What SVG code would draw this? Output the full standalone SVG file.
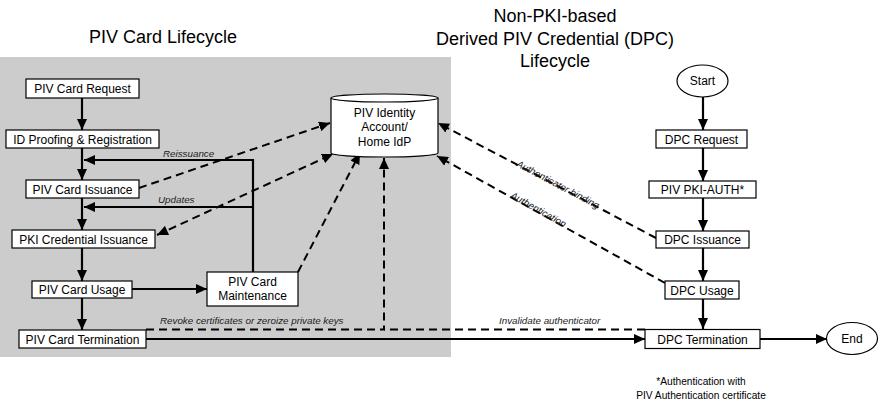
<svg xmlns="http://www.w3.org/2000/svg" width="880" height="405" viewBox="0 0 880 405">
<defs>
<style>
.box{fill:#fff;stroke:#000;stroke-width:1.2}
.t{font-family:"Liberation Sans",Arial,sans-serif;font-size:12px;fill:#000;text-anchor:middle}
.title{font-family:"Liberation Sans",Arial,sans-serif;font-size:18px;fill:#000;text-anchor:middle}
.lbl{font-family:"Liberation Sans",Arial,sans-serif;font-size:9.8px;font-style:italic;fill:#222}
.note{font-family:"Liberation Sans",Arial,sans-serif;font-size:10.2px;fill:#000;text-anchor:middle}
.solid{fill:none;stroke:#000;stroke-width:2.2}
.dash{fill:none;stroke:#000;stroke-width:2;stroke-dasharray:8,5}
</style>
<marker id="arr" markerUnits="userSpaceOnUse" markerWidth="12" markerHeight="10" refX="11" refY="5" orient="auto">
<path d="M0,0 L11,5 L0,10 z" fill="#000"/>
</marker>
<marker id="arrS" markerUnits="userSpaceOnUse" markerWidth="12" markerHeight="10" refX="0" refY="5" orient="auto">
<path d="M11,0 L0,5 L11,10 z" fill="#000"/>
</marker>
</defs>

<rect x="0" y="57" width="451" height="300" fill="#cccccc"/>

<text class="title" x="163" y="43">PIV Card Lifecycle</text>
<text class="title" x="555" y="22">Non-PKI-based</text>
<text class="title" x="555" y="45">Derived PIV Credential (DPC)</text>
<text class="title" x="555" y="67">Lifecycle</text>

<g id="connectors">
<line class="solid" x1="82" y1="98" x2="82" y2="130" marker-end="url(#arr)"/>
<line class="solid" x1="82" y1="148" x2="82" y2="180" marker-end="url(#arr)"/>
<line class="solid" x1="82" y1="198" x2="82" y2="230" marker-end="url(#arr)"/>
<line class="solid" x1="82" y1="248" x2="82" y2="281" marker-end="url(#arr)"/>
<line class="solid" x1="82" y1="298" x2="82" y2="330" marker-end="url(#arr)"/>
<line class="solid" x1="132" y1="289" x2="207" y2="289" marker-end="url(#arr)"/>
<polyline class="solid" points="253,272 253,160 84,160" marker-end="url(#arr)"/>
<line class="solid" x1="253" y1="207" x2="84" y2="207" marker-end="url(#arr)"/>
<text class="lbl" x="163" y="157">Reissuance</text>
<text class="lbl" x="158" y="203">Updates</text>

<line class="dash" x1="139" y1="188" x2="330" y2="123" marker-end="url(#arr)"/>
<line class="dash" x1="157" y1="235" x2="333" y2="154" marker-start="url(#arrS)" marker-end="url(#arr)"/>
<line class="dash" x1="298" y1="272" x2="360" y2="153" marker-end="url(#arr)"/>
<polyline class="dash" points="146,329.5 384,329.5 384,158" marker-end="url(#arr)"/>
<line class="dash" x1="645" y1="329.5" x2="384" y2="329.5"/>
<text class="lbl" x="160" y="324">Revoke certificates or zeroize private keys</text>
<text class="lbl" x="499" y="324">Invalidate authenticator</text>

<line class="dash" x1="656" y1="238" x2="438" y2="123" marker-end="url(#arr)"/>
<line class="dash" x1="665" y1="283" x2="437" y2="156" marker-end="url(#arr)"/>
<text class="lbl" text-anchor="middle" transform="translate(556.5,187.5) rotate(27.9)">Authenticator binding</text>
<text class="lbl" text-anchor="middle" transform="translate(537,212.5) rotate(29.1)">Authentication</text>

<line class="solid" x1="146" y1="339" x2="645" y2="339" marker-end="url(#arr)"/>
<line class="solid" x1="760" y1="339" x2="827" y2="339" marker-end="url(#arr)"/>

<line class="solid" x1="703" y1="97" x2="703" y2="130" marker-end="url(#arr)"/>
<line class="solid" x1="703" y1="148" x2="703" y2="181" marker-end="url(#arr)"/>
<line class="solid" x1="703" y1="198" x2="703" y2="231" marker-end="url(#arr)"/>
<line class="solid" x1="703" y1="248" x2="703" y2="281" marker-end="url(#arr)"/>
<line class="solid" x1="703" y1="299" x2="703" y2="329" marker-end="url(#arr)"/>
</g>

<g id="piv-card-request"><rect class="box" x="26" y="79" width="113" height="19"/><text class="t" x="82.5" y="93">PIV Card Request</text></g>
<g id="id-proofing"><rect class="box" x="6" y="130" width="153" height="18"/><text class="t" x="82.5" y="143.5">ID Proofing &amp; Registration</text></g>
<g id="piv-card-issuance"><rect class="box" x="26" y="180" width="113" height="18"/><text class="t" x="82.5" y="193.5">PIV Card Issuance</text></g>
<g id="pki-credential-issuance"><rect class="box" x="12" y="230" width="143" height="18"/><text class="t" x="83.5" y="243.5">PKI Credential Issuance</text></g>
<g id="piv-card-usage"><rect class="box" x="32" y="281" width="100" height="17"/><text class="t" x="82" y="294">PIV Card Usage</text></g>
<g id="piv-card-termination"><rect class="box" x="19" y="330" width="127" height="18"/><text class="t" x="82.5" y="343.5">PIV Card Termination</text></g>
<g id="piv-card-maintenance"><rect class="box" x="207" y="272" width="91" height="34"/><text class="t" x="252.5" y="285.5">PIV Card</text><text class="t" x="252.5" y="300">Maintenance</text></g>

<g id="piv-identity-account">
<path class="box" d="M331,98 L331,153 A53.5,4 0 0 0 438,153 L438,98"/>
<ellipse class="box" cx="384.5" cy="98" rx="53.5" ry="4"/>
<text class="t" x="384.5" y="117">PIV Identity</text>
<text class="t" x="384.5" y="131">Account/</text>
<text class="t" x="384.5" y="145.5">Home IdP</text>
</g>

<g id="start"><ellipse class="box" cx="702.5" cy="81" rx="25.5" ry="16"/><text class="t" x="702.5" y="85">Start</text></g>
<g id="dpc-request"><rect class="box" x="656" y="130" width="91" height="18"/><text class="t" x="701.5" y="143.5">DPC Request</text></g>
<g id="piv-pki-auth"><rect class="box" x="649" y="181" width="107" height="17"/><text class="t" x="702.5" y="194">PIV PKI-AUTH*</text></g>
<g id="dpc-issuance"><rect class="box" x="656" y="231" width="93" height="17"/><text class="t" x="702.5" y="244">DPC Issuance</text></g>
<g id="dpc-usage"><rect class="box" x="665" y="281" width="74" height="18"/><text class="t" x="702" y="294.5">DPC Usage</text></g>
<g id="dpc-termination"><rect class="box" x="645" y="329.5" width="115" height="19"/><text class="t" x="702.5" y="343.5">DPC Termination</text></g>
<g id="end"><ellipse class="box" cx="852" cy="338.5" rx="25.5" ry="16"/><text class="t" x="852" y="342.5">End</text></g>

<text class="note" x="701" y="385">*Authentication with</text>
<text class="note" x="701" y="399">PIV Authentication certificate</text>
</svg>
